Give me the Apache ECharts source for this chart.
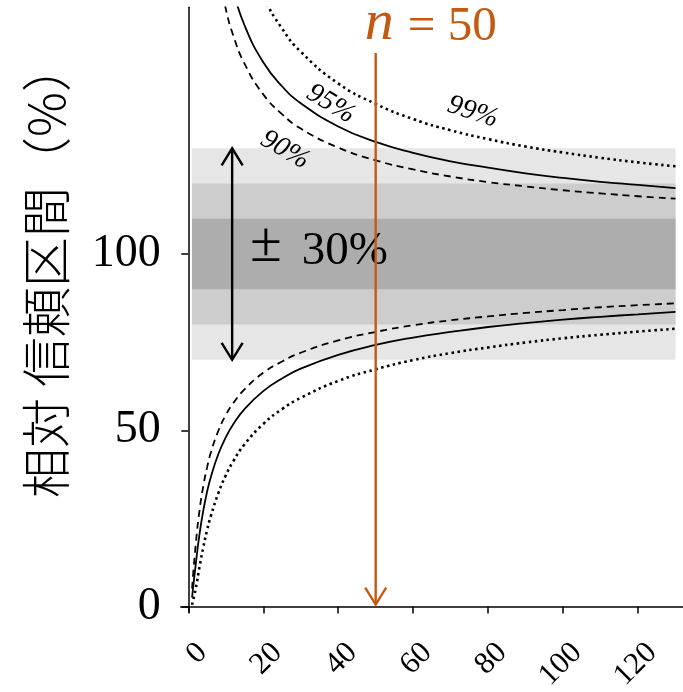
<!DOCTYPE html>
<html>
<head>
<meta charset="utf-8">
<script src="https://cdn.jsdelivr.net/npm/echarts@6/dist/echarts.min.js"></script>
<style>
  html, body { margin: 0; padding: 0; background: #fff; }
  #chart { width: 683px; height: 692px; }
</style>
</head>
<body>
<div id="chart"></div>
<script>
// Counts n and relative confidence limits (% of n)
const lowerN  = [1, 2, 3, 4, 5, 6, 8, 10, 12, 15, 20, 25, 30, 40, 50, 60, 70, 80, 90, 100, 110, 120, 130];
const lower90 = [5.1, 17.8, 27.3, 34.2, 39.4, 43.6, 49.8, 54.3, 57.7, 61.6, 66.3, 69.5, 72.0, 75.5, 77.9, 79.8, 81.2, 82.3, 83.3, 84.1, 84.9, 85.5, 86.0];
const lower95 = [2.5, 12.1, 20.6, 27.2, 32.5, 36.7, 43.2, 48.0, 51.7, 56.0, 61.1, 64.7, 67.5, 71.4, 74.2, 76.3, 77.9, 79.3, 80.4, 81.4, 82.2, 82.9, 83.6];
const lower99 = [0.5, 5.2, 11.3, 16.8, 21.6, 25.6, 32.1, 37.2, 41.2, 46.0, 51.8, 56.0, 59.2, 64.0, 67.3, 69.9, 71.9, 73.5, 74.9, 76.1, 77.1, 78.0, 78.8];

const upperN  = [6, 8, 10, 12, 15, 20, 25, 30, 40, 50, 60, 70, 80, 90, 100, 110, 120, 130];
const upper90 = [197.4, 180.4, 169.6, 162.0, 154.0, 145.3, 139.7, 135.6, 130.2, 126.6, 124.0, 122.0, 120.4, 119.2, 118.1, 117.2, 116.4, 115.7];
const upper95 = [217.7, 197.0, 183.9, 174.7, 164.9, 154.4, 147.6, 142.8, 136.2, 131.8, 128.7, 126.3, 124.5, 122.9, 121.6, 120.5, 119.6, 118.7];
const upper99 = [261.0, 232.2, 214.0, 201.2, 187.8, 173.3, 164.0, 157.4, 148.4, 142.6, 138.3, 135.1, 132.6, 130.5, 128.8, 127.3, 126.0, 124.9];

// Tolerance bands around 100 %: ±30, ±20, ±10
const bandHalfWidths = [30, 20, 10];
const bandColors = ['#e6e6e6', '#cdcdcd', '#adadad'];
const bandRange = [1, 130];

// Tick labels
const xTicks = [0, 20, 40, 60, 80, 100, 120];
const yTicks = [0, 50, 100];

// Marked sample size and the ±30 % span indicator
const markedN = 50;
const markedTop = 157;
const spanN = 11.7;

// Curve labels: text, n, value, angle
const curveLabels = [
  ['95%', 38.0, 142.6, -31],
  ['90%', 25.8, 129.5, -30],
  ['99%', 75.9, 140.3, -18]
];

const serif = "'Liberation Serif', serif";
const cjk = "'Noto Sans CJK JP', 'Noto Sans CJK SC', sans-serif";
const orange = '#c45a12';

function pairs(xs, ys) { return xs.map((x, i) => [x, ys[i]]); }

function curve(name, xs, ys, type, width) {
  return {
    name: name,
    type: 'line',
    data: pairs(xs, ys),
    showSymbol: false,
    smooth: true,
    clip: true,
    z: 3,
    lineStyle: { color: '#000', width: width, type: type, cap: 'butt' }
  };
}

function arrowHead(tip, dir, color) {
  // open V head; dir = +1 pointing down, -1 pointing up
  return {
    type: 'polyline',
    shape: { points: [[tip[0] - 10.5, tip[1] - dir * 17], tip, [tip[0] + 10.5, tip[1] - dir * 17]] },
    style: { stroke: color, lineWidth: 2.4, fill: null, lineJoin: 'miter' }
  };
}

const chart = echarts.init(document.getElementById('chart'), null, { renderer: 'canvas' });

const option = {
  animation: false,
  backgroundColor: '#fff',
  grid: { left: 180.8, right: 0, top: 7.3, bottom: 80.2, outerBoundsMode: 'none', containLabel: false },
  xAxis: {
    type: 'value',
    min: -2,
    max: 132,
    axisLine: { onZero: true, lineStyle: { color: '#000', width: 1.5 } },
    axisTick: { customValues: xTicks, length: 7, lineStyle: { color: '#000', width: 1.5 } },
    axisLabel: {
      customValues: xTicks,
      rotate: 45,
      align: 'right',
      verticalAlign: 'top',
      lineHeight: 40,
      margin: 22,
      fontFamily: serif,
      fontSize: 31,
      color: '#000'
    },
    splitLine: { show: false }
  },
  yAxis: {
    type: 'value',
    min: -1.5,
    max: 170,
    axisLine: { onZero: true, lineStyle: { color: '#000', width: 1.5 } },
    axisTick: { customValues: yTicks, length: 7, lineStyle: { color: '#000', width: 1.5 } },
    axisLabel: {
      customValues: yTicks,
      margin: 20,
      fontFamily: serif,
      fontSize: 46,
      color: '#000'
    },
    splitLine: { show: false }
  },
  graphic: [{
    type: 'text',
    x: 46,
    y: 270,
    rotation: Math.PI / 2,
    style: {
      text: '相対 信頼区間（%）',
      fontFamily: cjk,
      fontSize: 50,
      fontWeight: 300,
      fill: '#000',
      align: 'center',
      verticalAlign: 'middle'
    },
    z: 10
  }],
  series: [
    {
      name: 'bands',
      type: 'custom',
      z: 1,
      silent: true,
      data: bandHalfWidths.map((h, i) => [bandRange[0], bandRange[1], 100 - h, 100 + h, i]),
      renderItem: function (params, api) {
        const p0 = api.coord([api.value(0), api.value(3)]);
        const p1 = api.coord([api.value(1), api.value(2)]);
        return {
          type: 'rect',
          shape: { x: p0[0], y: p0[1], width: p1[0] - p0[0], height: p1[1] - p0[1] },
          style: { fill: bandColors[api.value(4)] }
        };
      }
    },
    curve('90% lower', lowerN, lower90, [7, 5], 1.8),
    curve('95% lower', lowerN, lower95, 'solid', 1.8),
    curve('99% lower', lowerN, lower99, [2.5, 3.5], 2.6),
    curve('90% upper', upperN, upper90, [7, 5], 1.8),
    curve('95% upper', upperN, upper95, 'solid', 1.8),
    curve('99% upper', upperN, upper99, [2.5, 3.5], 2.6),
    {
      name: 'span',
      type: 'custom',
      z: 4,
      silent: true,
      data: [[spanN, 100 - bandHalfWidths[0], 100 + bandHalfWidths[0]]],
      renderItem: function (params, api) {
        const a = api.coord([api.value(0), api.value(1)]);
        const b = api.coord([api.value(0), api.value(2)]);
        return {
          type: 'group',
          children: [
            { type: 'line', shape: { x1: a[0], y1: a[1], x2: b[0], y2: b[1] }, style: { stroke: '#000', lineWidth: 2.4 } },
            arrowHead(a, 1, '#000'),
            arrowHead(b, -1, '#000')
          ]
        };
      }
    },
    {
      name: 'marked n',
      type: 'custom',
      z: 6,
      silent: true,
      data: [[markedN, markedTop, 0]],
      renderItem: function (params, api) {
        const a = api.coord([api.value(0), api.value(1)]);
        const b = api.coord([api.value(0), api.value(2)]);
        b[1] -= 2;
        return {
          type: 'group',
          children: [
            { type: 'line', shape: { x1: a[0], y1: a[1], x2: b[0], y2: b[1] }, style: { stroke: orange, lineWidth: 2.4 } },
            arrowHead(b, 1, orange)
          ]
        };
      }
    },
    {
      name: 'labels',
      type: 'scatter',
      z: 5,
      silent: true,
      symbolSize: 0,
      itemStyle: { opacity: 1 },
      data: curveLabels.map(c => ({
        value: [c[1], c[2]],
        label: {
          show: true,
          position: 'inside',
          formatter: c[0],
          rotate: c[3],
          fontFamily: serif,
          fontStyle: 'italic',
          fontSize: 28,
          color: '#000',
          opacity: 1
        }
      })).concat([
        {
          value: [16.45, 102.3],
          label: {
            show: true,
            position: 'right',
            distance: 0,
            opacity: 1,
            formatter: '{pm|±}{t|30%}',
            rich: {
              pm: { fontFamily: serif, fontSize: 58, color: '#000', verticalAlign: 'bottom' },
              t: { fontFamily: serif, fontSize: 47, color: '#000', padding: [0, 0, 0, 20], verticalAlign: 'bottom' }
            }
          }
        },
        {
          value: [47.1, 165.2],
          label: {
            show: true,
            position: 'right',
            distance: 0,
            opacity: 1,
            formatter: '{n|n}{t|= 50}',
            rich: {
              n: { fontFamily: serif, fontStyle: 'italic', fontSize: 58, color: orange, verticalAlign: 'bottom' },
              t: { fontFamily: serif, fontSize: 49, color: orange, padding: [0, 0, 2, 14], verticalAlign: 'bottom' }
            }
          }
        }
      ])
    }
  ]
};

chart.setOption(option);
</script>
</body>
</html>
